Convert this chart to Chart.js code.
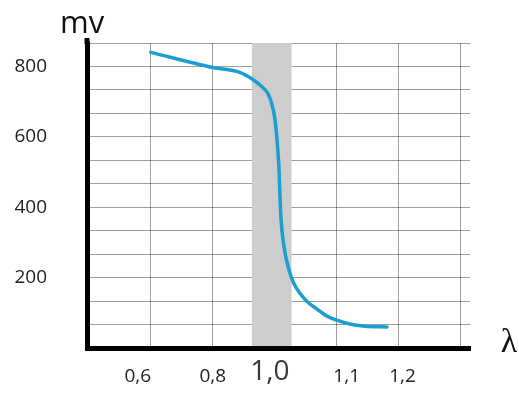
<!DOCTYPE html>
<html>
<head>
<meta charset="utf-8">
<script src="https://cdn.jsdelivr.net/npm/chart.js@4/dist/chart.umd.min.js"></script>
<style>
    html, body { margin: 0; padding: 0; background: #fff; }
    #wrap { width: 519px; height: 396px; }
</style>
</head>
<body>
<div id="wrap"><canvas id="lambdaChart"></canvas></div>
<script>
const lambdaTicks = [0.6, 0.8, 1.0, 1.1, 1.2];
const xTickLabels = ['0,6', '0,8', '1,0', '1,1', '1,2'];
const yTickLabels = [200, 400, 600, 800];
const lambdaValues = [0.6, 0.8, 0.887, 0.929, 0.958, 0.977, 0.99, 1.0, 1.003, 1.0065, 1.0097, 1.0145, 1.024,
    1.0306, 1.0403, 1.0516, 1.0677, 1.0839, 1.1, 1.121, 1.145, 1.181];
const mvValues = [840, 797, 783, 763, 743, 724, 695, 653, 604, 519, 377, 292, 215,
    184, 156, 133, 111, 91, 79, 68, 62, 60];
const lambdaBand = [0.926, 1.027];

// the drawing gives every tick step the same width, so map lambda to tick index
function toAxis(l) {
    let i = 0;
    while (i < lambdaTicks.length - 2 && l > lambdaTicks[i + 1]) i++;
    return i + (l - lambdaTicks[i]) / (lambdaTicks[i + 1] - lambdaTicks[i]);
}

const labelShift = [-0.21, 0, -0.08, 0.16, 0.06];
const fontFamily = '"Open Sans", sans-serif';

const noPadding = scale => {
    scale.paddingTop = 0;
    scale.paddingBottom = 0;
    scale.paddingLeft = 0;
    scale.paddingRight = 0;
};

const bandPlugin = {
    id: 'band',
    beforeDatasetsDraw(chart) {
        const {ctx, chartArea, scales} = chart;
        const x0 = scales.x.getPixelForValue(toAxis(lambdaBand[0]));
        const x1 = scales.x.getPixelForValue(toAxis(lambdaBand[1]));
        ctx.save();
        ctx.fillStyle = '#cdcdcd';
        ctx.fillRect(x0, chartArea.top, x1 - x0, chartArea.bottom - chartArea.top - 2);
        ctx.restore();
    },
    afterDraw(chart) {
        const {ctx, chartArea} = chart;
        ctx.save();
        // y axis sticks out a bit above the grid
        ctx.fillStyle = '#000';
        ctx.fillRect(chartArea.left - 2.5, chartArea.top - 5, 5, 6);
        ctx.fillStyle = '#111';
        ctx.font = '31px ' + fontFamily;
        ctx.textBaseline = 'alphabetic';
        ctx.textAlign = 'left';
        ctx.fillText('mv', 60, 33);
        ctx.font = '34px "Liberation Serif", serif';
        ctx.textAlign = 'center';
        ctx.fillText('λ', 509, 352);
        ctx.restore();
    }
};

let ctx = document.getElementById('lambdaChart');
let lambdaChart = new Chart(ctx, {
    type: 'line',
    data: {
        datasets: [{
            data: lambdaValues.map((l, i) => ({x: toAxis(l), y: mvValues[i]})),
            borderColor: '#1a9fd0',
            borderWidth: 3.5,
            borderCapStyle: 'round',
            pointRadius: 0,
            fill: false,
            cubicInterpolationMode: 'monotone'
        }]
    },
    options: {
        responsive: true,
        maintainAspectRatio: false,
        animation: false,
        layout: {
            padding: {top: 43, right: 49, left: 0, bottom: 0}
        },
        plugins: {
            legend: {display: false},
            tooltip: {enabled: false}
        },
        scales: {
            x: {
                type: 'linear',
                position: 'bottom',
                weight: 0,
                min: -1.03,
                max: 5.15,
                afterBuildTicks: scale => {
                    scale.ticks = [0, 1, 2, 3, 4, 5].map(v => ({value: v}));
                },
                afterFit: scale => { scale.height = 0; noPadding(scale); },
                ticks: {display: false, autoSkip: false},
                grid: {color: 'rgba(0,0,0,0.38)', lineWidth: 1, drawTicks: false},
                border: {display: true, color: '#000', width: 5}
            },
            xl: {
                type: 'linear',
                position: 'bottom',
                weight: 1,
                min: -1.03,
                max: 5.15,
                afterBuildTicks: scale => {
                    scale.ticks = lambdaTicks.map((l, i) => ({value: toAxis(l) + labelShift[i]}));
                },
                afterFit: scale => { scale.height = 48; noPadding(scale); },
                grid: {display: false, drawTicks: false},
                border: {display: false},
                ticks: {
                    autoSkip: false,
                    maxRotation: 0,
                    padding: 17,
                    callback: (value, index) => xTickLabels[index],
                    color: c => c.index === 2 ? '#3a3a3a' : '#222',
                    font: c => c.index === 2
                        ? {family: fontFamily, size: 28, lineHeight: 0.5}
                        : {family: fontFamily, size: 19}
                }
            },
            y: {
                min: 0,
                max: 2600 / 3,
                afterBuildTicks: scale => {
                    const t = [];
                    for (let i = 0; i <= 13; i++) t.push({value: i * 200 / 3});
                    scale.ticks = t;
                },
                afterFit: scale => { scale.width = 87; noPadding(scale); },
                grid: {color: 'rgba(0,0,0,0.38)', lineWidth: 1, drawTicks: false},
                border: {display: true, color: '#000', width: 5},
                ticks: {
                    autoSkip: false,
                    padding: 40,
                    color: '#222',
                    font: {family: fontFamily, size: 19},
                    callback: value => {
                        const v = Math.round(value);
                        return yTickLabels.includes(v) ? String(v) : '';
                    }
                }
            }
        }
    },
    plugins: [bandPlugin]
});
</script>
</body>
</html>
